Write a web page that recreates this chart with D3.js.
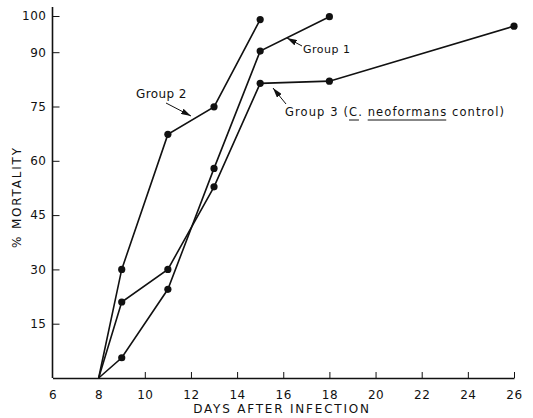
<!DOCTYPE html>
<html>
<head>
<meta charset="utf-8">
<script src="https://cdn.jsdelivr.net/npm/d3@7"></script>
<style>
  body { margin: 0; background: #fff; }
  text { font-family: "DejaVu Sans", sans-serif; fill: #111; }
</style>
</head>
<body>
<div id="chart"></div>
<script>
// values
const days1 = [8, 9, 11, 13, 15, 18];
const mort1 = [0, 5.6, 24.5, 57.9, 90.3, 99.8];
const days2 = [8, 9, 11, 13, 15];
const mort2 = [0, 30, 67.3, 74.9, 99];
const days3 = [8, 9, 11, 13, 15, 18, 26];
const mort3 = [0, 21, 30, 52.8, 81.4, 82, 97.2];
const xTicks = [6, 8, 10, 12, 14, 16, 18, 20, 22, 24, 26];
const yTicks = [15, 30, 45, 60, 75, 90, 100];

const width = 533, height = 418;
const svg = d3.select('#chart').append('svg')
    .attr('width', width)
    .attr('height', height);

const x = d3.scaleLinear().domain([6, 26]).range([52.5, 514]);
const y = d3.scaleLinear().domain([0, 100]).range([378, 16]);

// arrowhead
svg.append('defs').append('marker')
    .attr('id', 'arr')
    .attr('viewBox', '0 0 10 6')
    .attr('refX', 10).attr('refY', 3)
    .attr('markerWidth', 10).attr('markerHeight', 6)
    .attr('markerUnits', 'userSpaceOnUse')
    .attr('orient', 'auto')
    .append('path').attr('d', 'M0,0L10,3L0,6Z').attr('fill', '#111');

// axes
const xAxis = svg.append('g')
    .attr('transform', 'translate(0,' + y(0) + ')')
    .call(d3.axisBottom(x).tickValues(xTicks).tickSizeInner(-6).tickSizeOuter(0).tickPadding(12));
const yAxis = svg.append('g')
    .attr('transform', 'translate(' + x(6) + ',0)')
    .call(d3.axisLeft(y).tickValues(yTicks).tickSizeInner(-7).tickSizeOuter(0).tickPadding(6));

[xAxis, yAxis].forEach(g => {
    g.select('.domain').attr('stroke', '#111').attr('stroke-width', 1.6);
    g.selectAll('.tick line').attr('stroke', '#111').attr('stroke-width', 1);
    g.selectAll('.tick text').style('font-family', '"DejaVu Sans", sans-serif')
        .style('font-size', '12px').style('letter-spacing', '0.5px').attr('fill', '#111');
});
xAxis.selectAll('.tick').filter(d => d == 6 || d == 8).select('line').remove();
// y axis runs a bit above 100
yAxis.select('.domain').attr('d', 'M0,' + y(0) + 'V7');

// axis titles
svg.append('text')
    .attr('x', 282).attr('y', 413)
    .attr('text-anchor', 'middle')
    .style('font-size', '12px')
    .style('letter-spacing', '1.8px')
    .text('DAYS AFTER INFECTION');
svg.append('text')
    .attr('transform', 'translate(21,197) rotate(-90)')
    .attr('text-anchor', 'middle')
    .style('font-size', '12px')
    .style('letter-spacing', '1.8px')
    .text('% MORTALITY');

// series
const series = [
    { name: 'Group 1', d: days1, m: mort1 },
    { name: 'Group 2', d: days2, m: mort2 },
    { name: 'Group 3', d: days3, m: mort3 }
];
const line = d3.line().x(p => x(p[0])).y(p => y(p[1]));

series.forEach(s => {
    const pts = s.d.map((d, i) => [d, s.m[i]]);
    svg.append('path')
        .attr('d', line(pts))
        .attr('fill', 'none')
        .attr('stroke', '#111')
        .attr('stroke-width', 1.6);
    svg.selectAll(null)
        .data(pts.slice(1))
        .enter().append('circle')
        .attr('cx', p => x(p[0]))
        .attr('cy', p => y(p[1]))
        .attr('r', 3.6)
        .attr('fill', '#111');
});

// annotations
function arrow(x1, y1, x2, y2) {
    svg.append('line')
        .attr('x1', x1).attr('y1', y1).attr('x2', x2).attr('y2', y2)
        .attr('stroke', '#111').attr('stroke-width', 1)
        .attr('marker-end', 'url(#arr)');
}

svg.append('text').attr('x', 136).attr('y', 98).style('font-size', '12px')
    .style('letter-spacing', '0.4px').text('Group 2');
arrow(166, 103, 191, 116);

svg.append('text').attr('x', 303).attr('y', 53).style('font-size', '11px')
    .style('letter-spacing', '0.5px').text('Group 1');
arrow(302, 46, 287, 38);

const g3 = svg.append('text').attr('x', 285).attr('y', 116).style('font-size', '11.5px')
    .style('letter-spacing', '1.1px');
g3.append('tspan').text('Group 3 (');
const tC = g3.append('tspan').text('C.');
g3.append('tspan').text(' ');
const tN = g3.append('tspan').text('neoformans');
g3.append('tspan').text(' control)');
arrow(286, 104, 273, 88);

[tC, tN].forEach(t => {
    const b = t.node().getBBox();
    svg.append('line')
        .attr('x1', b.x).attr('x2', b.x + b.width - (t === tC ? 4 : 1))
        .attr('y1', 120).attr('y2', 120)
        .attr('stroke', '#111').attr('stroke-width', 1);
});
</script>
</body>
</html>
